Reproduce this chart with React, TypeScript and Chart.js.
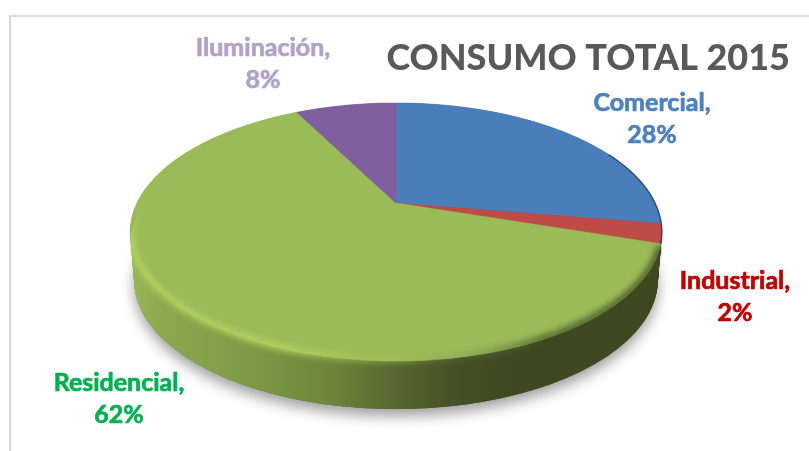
import React, { useEffect, useRef } from "react";
import { Chart, registerables } from "chart.js";

Chart.register(...registerables);

const titleText = "CONSUMO TOTAL 2015";
const categories = ["Comercial", "Industrial", "Residencial", "Iluminación"];
const shares = [27.6, 2.4, 62.4, 7.6];
const sliceColors = ["#4a7ebb", "#be4b48", "#9bbb59", "#7f5f9f"];
const labelColors = ["#4f81bd", "#c00000", "#00b050", "#b3a2c7"];
const labelAnchors = [
  [652, 103],
  [735, 281],
  [119, 383],
  [263, 48],
];

const FONT = "Lato, Carlito, sans-serif";
const G = { cx: 396, cy: 203, rx: 259, ry: 122.5, p: 0.225, depth: 48, baseScale: 0.985 };

function proj(t: number, dy = 0, sx = 1): [number, number] {
  const u = Math.cos(t);
  const v = Math.sin(t);
  const w = 1 - G.p * v;
  return [G.cx + (G.rx * u * sx) / w, G.cy + (G.ry * v) / w + dy];
}

function outline(ctx: CanvasRenderingContext2D, dy = 0, sx = 1) {
  ctx.beginPath();
  for (let i = 0; i <= 360; i++) {
    const [x, y] = proj((i / 180) * Math.PI, dy, sx);
    if (i === 0) ctx.moveTo(x, y);
    else ctx.lineTo(x, y);
  }
  ctx.closePath();
}

function arcPath(ctx: CanvasRenderingContext2D, a: number, b: number, dy = 0) {
  ctx.beginPath();
  const n = Math.max(2, Math.ceil((b - a) / 0.01));
  for (let i = 0; i <= n; i++) {
    const [x, y] = proj(a + ((b - a) * i) / n, dy);
    if (i === 0) ctx.moveTo(x, y);
    else ctx.lineTo(x, y);
  }
}

const pie3d = {
  id: "pie3d",
  beforeDraw(chart: any) {
    const ctx = chart.ctx as CanvasRenderingContext2D;
    ctx.save();
    ctx.fillStyle = "#ffffff";
    ctx.fillRect(0, 0, chart.width, chart.height);
    ctx.strokeStyle = "#d9d9d9";
    ctx.lineWidth = 2;
    ctx.beginPath();
    ctx.moveTo(10, chart.height + 2);
    ctx.lineTo(10, 16);
    ctx.lineTo(chart.width + 2, 16);
    ctx.stroke();
    ctx.restore();
  },
  beforeDatasetDraw(chart: any) {
    const ctx = chart.ctx as CanvasRenderingContext2D;
    const arcs = chart.getDatasetMeta(0).data;

    // Soft shadow under the base
    ctx.save();
    ctx.beginPath();
    ctx.rect(0, 250, chart.width, chart.height - 250);
    ctx.clip();
    ctx.shadowColor = "rgba(0,0,0,0.38)";
    ctx.shadowBlur = 14;
    ctx.shadowOffsetY = 7;
    ctx.fillStyle = "#55602e";
    outline(ctx, G.depth, G.baseScale);
    ctx.fill();
    ctx.restore();

    // Side wall
    const side = ctx.createLinearGradient(130, 0, 662, 0);
    const sideStops: [number, string][] = [
      [0, "#9ab856"],
      [0.06, "#8ba94e"],
      [0.22, "#7f9a46"],
      [0.38, "#6c853b"],
      [0.5, "#566730"],
      [0.62, "#434f25"],
      [0.72, "#3e4921"],
      [1, "#3d4820"],
    ];
    sideStops.forEach(([o, c]) => side.addColorStop(o, c));
    ctx.save();
    ctx.fillStyle = side;
    for (let d = 0; d <= G.depth; d++) {
      outline(ctx, d, 1 - ((1 - G.baseScale) * d) / G.depth);
      ctx.fill();
    }
    ctx.restore();

    // Top face slices, from each arc's own angles
    arcs.forEach((el: any, i: number) => {
      const { startAngle, endAngle } = el.getProps(["startAngle", "endAngle"], true);
      const n = Math.max(2, Math.ceil((endAngle - startAngle) / 0.01));
      ctx.beginPath();
      ctx.moveTo(G.cx, G.cy);
      for (let k = 0; k <= n; k++) {
        const [x, y] = proj(startAngle + ((endAngle - startAngle) * k) / n);
        ctx.lineTo(x, y);
      }
      ctx.closePath();
      ctx.fillStyle = sliceColors[i];
      ctx.strokeStyle = sliceColors[i];
      ctx.lineWidth = 0.6;
      ctx.fill();
      ctx.stroke();
    });

    // Bevel: light rim on the left/bottom, dark on the right
    ctx.save();
    outline(ctx, 14, 1);
    ctx.clip();
    const rim = ctx.createLinearGradient(130, 0, 662, 0);
    rim.addColorStop(0, "rgba(185,218,98,0.9)");
    rim.addColorStop(0.3, "rgba(185,218,98,0.9)");
    rim.addColorStop(0.5, "rgba(165,195,88,0.45)");
    rim.addColorStop(0.62, "rgba(120,140,70,0.3)");
    rim.addColorStop(0.78, "rgba(62,73,33,0.85)");
    rim.addColorStop(1, "rgba(62,73,33,0.95)");
    ctx.filter = "blur(3px)";
    ctx.strokeStyle = rim;
    ctx.lineWidth = 6;
    arcPath(ctx, 0.34, 3.6, -1);
    ctx.stroke();
    ctx.restore();

    // Dark sliver on the right edge of the upper slices
    ctx.save();
    ctx.filter = "blur(0.6px)";
    ctx.strokeStyle = "rgba(25,45,85,0.7)";
    ctx.lineWidth = 1.4;
    arcPath(ctx, -0.45, 0.32);
    ctx.stroke();
    ctx.restore();

    return false;
  },
  afterDatasetsDraw(chart: any) {
    const ctx = chart.ctx as CanvasRenderingContext2D;
    ctx.save();
    ctx.font = `700 25px ${FONT}`;
    ctx.textAlign = "center";
    ctx.textBaseline = "middle";
    ctx.lineWidth = 0.7;
    ctx.lineJoin = "round";
    categories.forEach((name, i) => {
      const [x, y] = labelAnchors[i];
      ctx.fillStyle = labelColors[i];
      ctx.strokeStyle = labelColors[i];
      const lines = [`${name},`, `${Math.round(shares[i])}%`];
      lines.forEach((line, k) => {
        ctx.fillText(line, x, y + k * 32);
        ctx.strokeText(line, x, y + k * 32);
      });
    });
    ctx.restore();
  },
};

export default function App() {
  const ref = useRef<HTMLCanvasElement>(null);
  useEffect(() => {
    const chart = new Chart(ref.current as HTMLCanvasElement, {
      type: "pie",
      data: {
        labels: categories,
        datasets: [{ data: shares, backgroundColor: sliceColors, borderWidth: 0 }],
      },
      options: {
        responsive: false,
        animation: false,
        layout: { padding: { right: 19 } },
        plugins: {
          legend: { display: false },
          tooltip: { enabled: false },
          title: {
            display: true,
            text: titleText,
            align: "end",
            color: "#595959",
            font: { family: FONT, size: 36, weight: "900" },
            padding: { top: 37, bottom: 10 },
          },
        },
      },
      plugins: [pie3d],
    } as any);
    return () => chart.destroy();
  }, []);
  return (
    <canvas
      ref={ref}
      width={809}
      height={451}
      style={{ position: "fixed", left: 0, top: 0, display: "block" }}
    />
  );
}
